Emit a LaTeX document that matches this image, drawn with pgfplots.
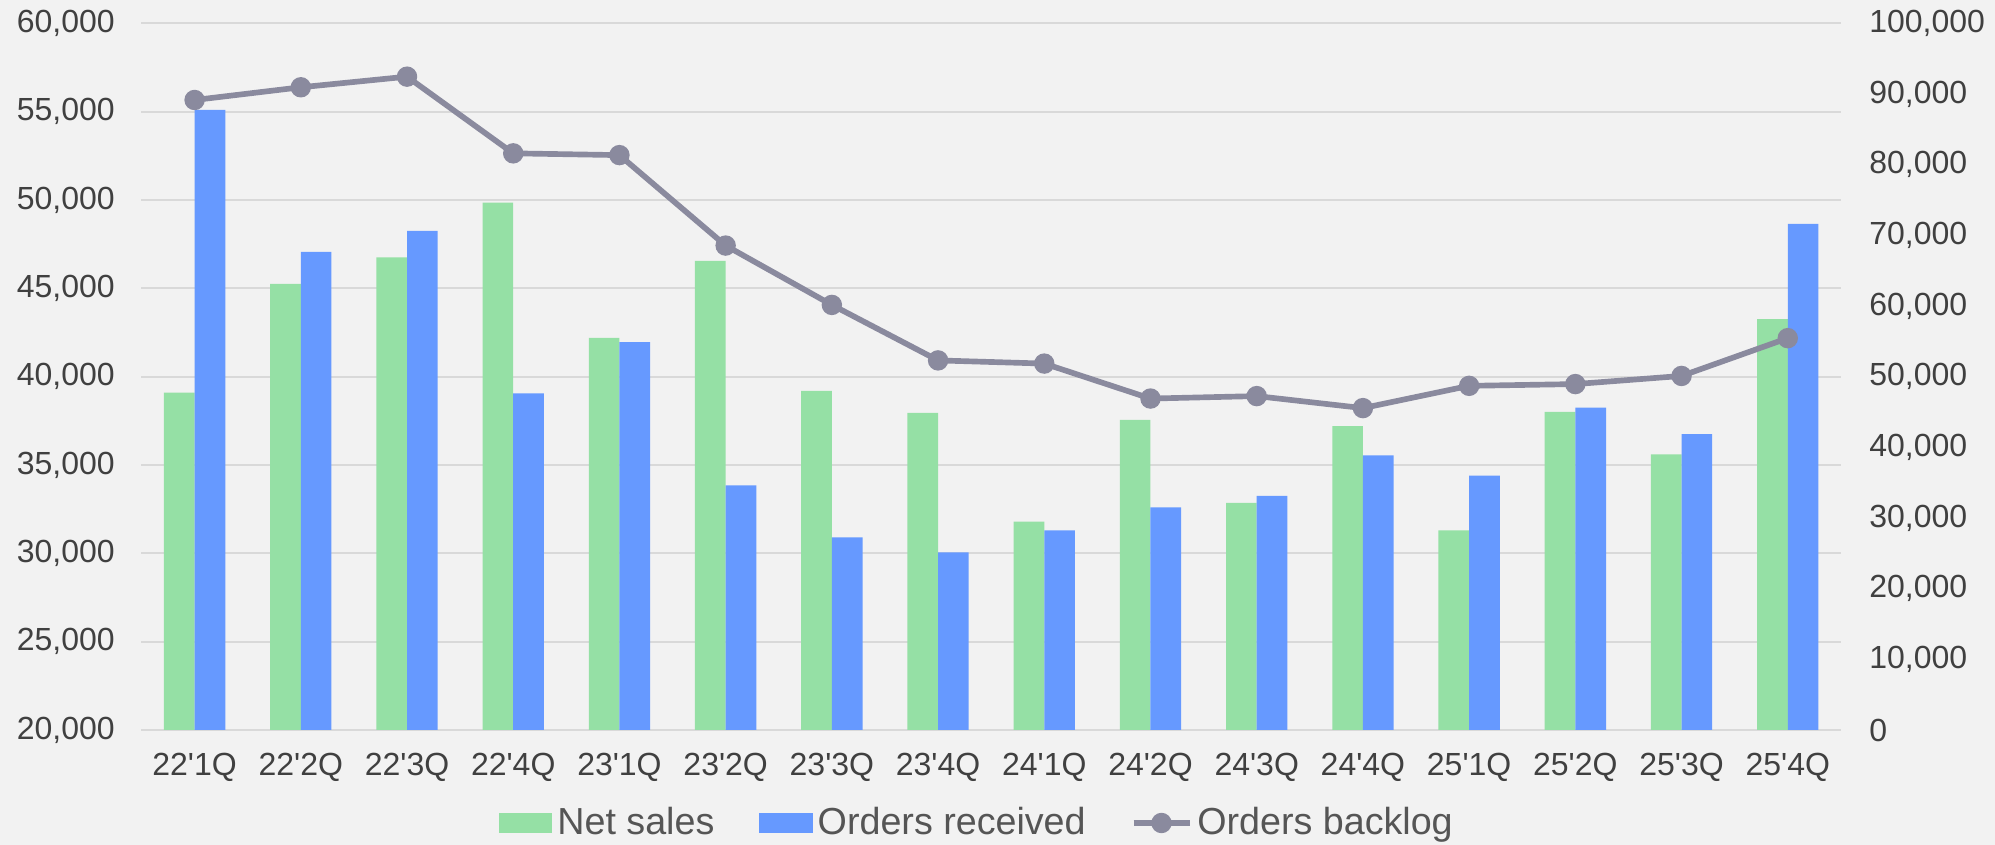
\documentclass[border=0pt]{standalone}
\usepackage{fontspec}
\setmainfont{Liberation Sans}
\usepackage{pgfplots}
\usepackage{pgfplotstable}
\pgfplotsset{compat=1.18}

\definecolor{bg}{HTML}{F2F2F2}
\definecolor{netgreen}{HTML}{95E0A5}
\definecolor{ordblue}{HTML}{6699FF}
\definecolor{backlog}{HTML}{8A8A9E}
\definecolor{gridc}{HTML}{D9D9D9}
\definecolor{txt}{HTML}{404040}
\definecolor{legtxt}{HTML}{555555}

\newcommand{\q}{\textquotesingle}

% quarter index, net sales, orders received (left axis), orders backlog (right axis)
\pgfplotstableread{
idx net   orders backlog
0   39100 55100  89150
1   45250 47070  90950
2   46750 48250  92450
3   49850 39050  81600
4   42200 41950  81350
5   46550 33850  68550
6   39200 30900  60150
7   37950 30050  52300
8   31800 31300  51850
9   37550 32600  46900
10  32850 33250  47250
11  37200 35550  45550
12  31300 34400  48700
13  38000 38250  48950
14  35600 36750  50100
15  43250 48650  55450
}\quarters

\pgfplotsset{
  base/.style={
    at={(0pt,0pt)}, anchor=south west,
    width=509.8pt, height=212pt, scale only axis,
    xmin=-0.5, xmax=15.5,
    axis line style={draw=none},
    major tick length=0pt,
    tick label style={font=\fontsize{9.6}{11}\selectfont, text=txt},
    /pgf/number format/fixed,
    /pgf/number format/assume math mode=true,
    /pgf/number format/1000 sep={,},
    scaled y ticks=false,
  }
}

\begin{document}
\begin{tikzpicture}
\fill[bg] (-42.45pt,-34.5pt) rectangle (556.05pt,219pt);
\useasboundingbox (-42.45pt,-34.5pt) rectangle (556.05pt,219pt);

\begin{axis}[base,
  ymin=20000, ymax=60000,
  ytick={20000,25000,...,60000},
  ymajorgrids, grid style={draw=gridc, line width=0.6pt},
  yticklabel style={xshift=-4.5pt},
  xtick={0,...,15},
  xticklabels={22\q1Q,22\q2Q,22\q3Q,22\q4Q,23\q1Q,23\q2Q,23\q3Q,23\q4Q,
    24\q1Q,24\q2Q,24\q3Q,24\q4Q,25\q1Q,25\q2Q,25\q3Q,25\q4Q},
  xticklabel style={yshift=-3.5pt},
  ybar=0pt, bar width=9.2pt,
]
\addplot[fill=netgreen, draw=none] table[x=idx, y=net] {\quarters};
\addplot[fill=ordblue, draw=none] table[x=idx, y=orders] {\quarters};
\end{axis}

\begin{axis}[base,
  ymin=0, ymax=100000,
  ytick={0,10000,...,100000},
  yticklabel pos=right,
  yticklabel style={xshift=5pt},
  xtick=\empty,
  legend columns=3,
  legend style={draw=none, fill=none, inner sep=0pt,
    at={(0.21,-0.1316)}, anchor=west,
    font=\fontsize{11.3}{13}\selectfont, text=legtxt,
    /tikz/every even column/.append style={column sep=12pt},
    nodes={inner sep=1.5pt}},
]
\addlegendimage{legend image code/.code={\fill[netgreen] (0pt,-2.7pt) rectangle (15.6pt,2.7pt);}}
\addlegendentry{Net sales}
\addlegendimage{legend image code/.code={\fill[ordblue] (0pt,-2.7pt) rectangle (15.6pt,2.7pt);}}
\addlegendentry{Orders received}
\addplot[backlog, line width=1.7pt, mark=*, mark size=2.2pt,
  mark options={solid, fill=backlog, draw=backlog},
  legend image code/.code={\draw[backlog, line width=1.7pt] (0pt,0pt) -- (16.8pt,0pt);
    \fill[backlog] (8.4pt,0pt) circle (2.2pt);}]
  table[x=idx, y=backlog] {\quarters};
\addlegendentry{Orders backlog}
\end{axis}
\end{tikzpicture}
\end{document}
